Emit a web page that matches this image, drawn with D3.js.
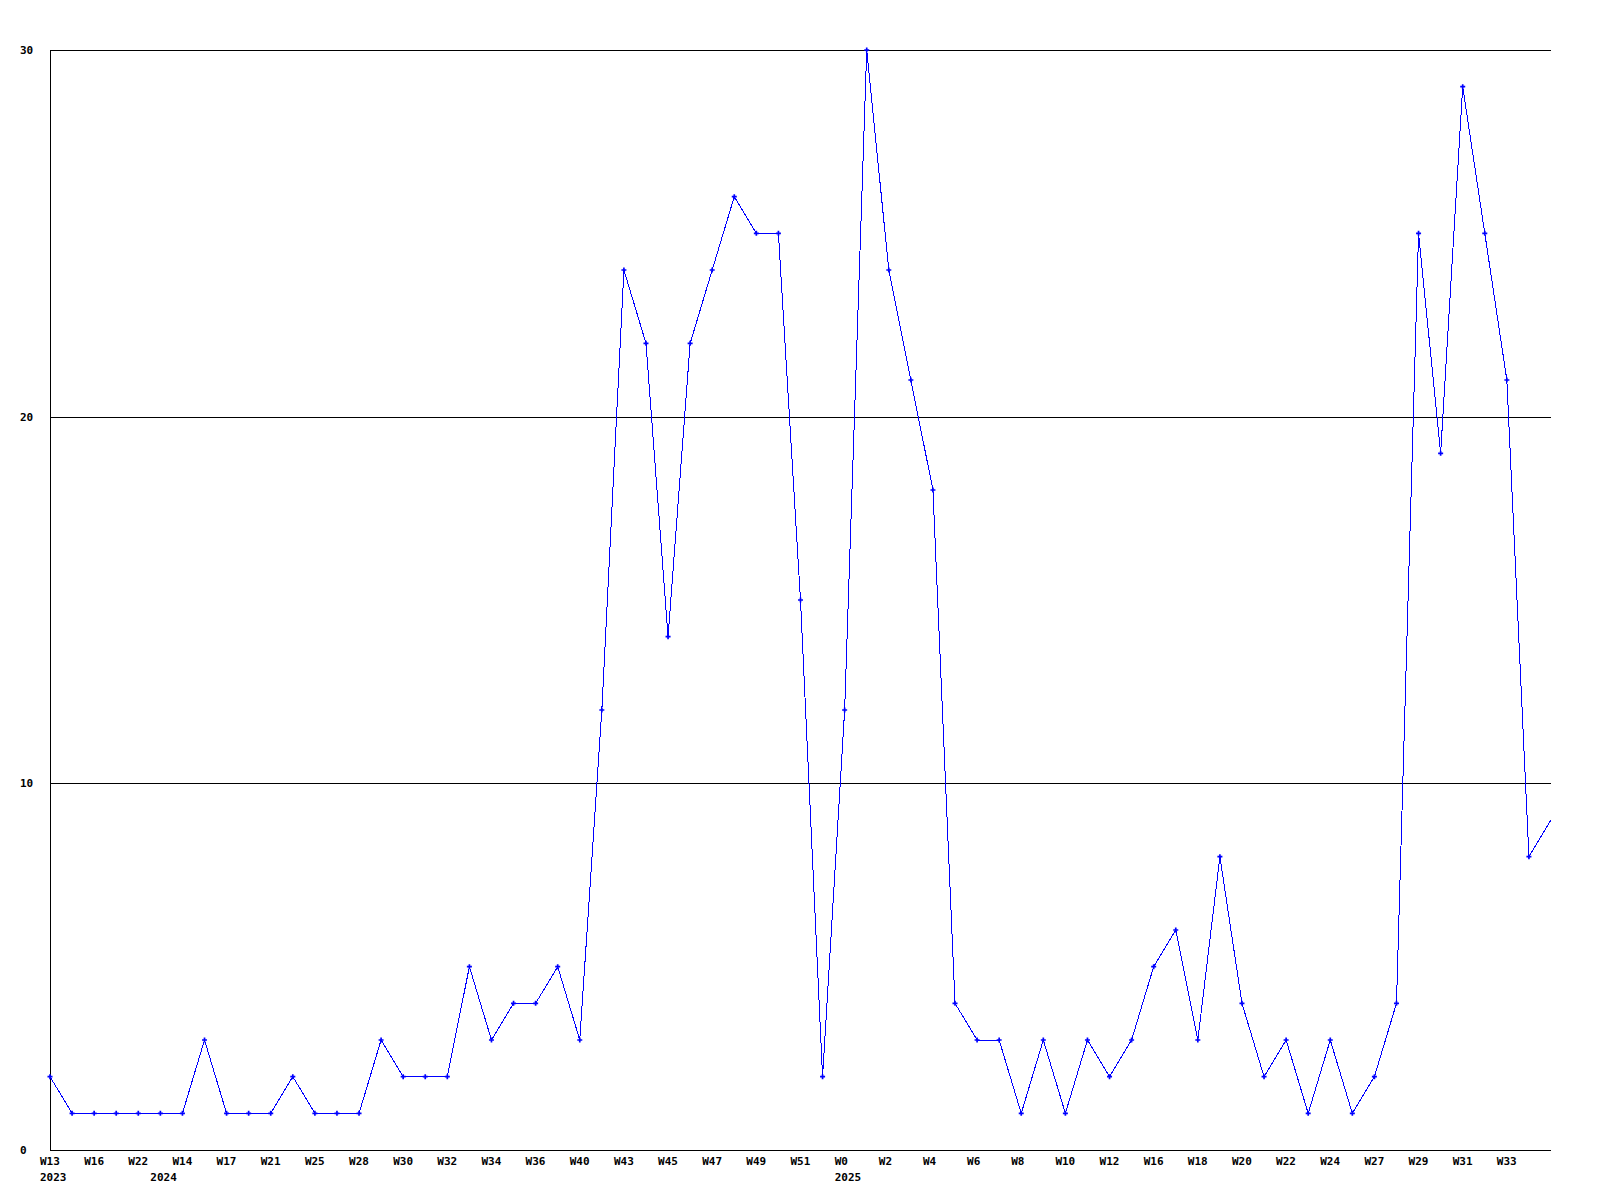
<!DOCTYPE html>
<html>
<head>
<meta charset="utf-8">
<script src="https://cdn.jsdelivr.net/npm/d3@7"></script>
<style>
  html, body { margin: 0; padding: 0; background: #fff; }
  svg { display: block; }
  text { font-family: "DejaVu Sans Mono", "Liberation Mono", monospace; font-weight: bold; font-size: 11px; fill: #000; }
</style>
</head>
<body>
<svg id="chart" width="1600" height="1200"></svg>
<script>
// Weekly counts (one point per week)
const values = [2,1,1,1,1,1,1,3,1,1,1,2,1,1,1,3,2,2,2,5,3,4,4,5,3,12,24,22,14,22,24,26,25,25,15,2,12,30,24,21,18,4,3,3,1,3,1,3,2,3,5,6,3,8,4,2,3,1,3,1,2,4,25,19,29,25,21,8,9];
// Week tick labels (every second point, starting at index 0)
const weekLabels = ["W13","W16","W22","W14","W17","W21","W25","W28","W30","W32","W34","W36","W40","W43","W45","W47","W49","W51","W0","W2","W4","W6","W8","W10","W12","W16","W18","W20","W22","W24","W27","W29","W31","W33"];
const weekLabelIndex = weekLabels.map((_, i) => i * 2);
// Year labels and the point index where they appear
const yearLabels = ["2023","2024","2025"];
const yearLabelIndex = [0, 5, 36];
const yTicks = [0, 10, 20, 30];

(function () {
const mLeft = 50, mRight = 1551, mTop = 50, mBottom = 1150;
const svg = d3.select("#chart");

const x = d3.scaleLinear().domain([0, values.length - 1]).range([mLeft, mRight]);
const y = d3.scaleLinear().domain([0, 30]).range([mBottom, mTop]);

// horizontal grid lines
svg.append("g").selectAll("line").data(yTicks.filter(d => d > 0)).join("line")
  .attr("x1", mLeft).attr("x2", mRight)
  .attr("y1", d => Math.round(y(d)) + 0.5).attr("y2", d => Math.round(y(d)) + 0.5)
  .attr("stroke", "#000").attr("stroke-width", 1).attr("shape-rendering", "crispEdges");

// axes lines
svg.append("line").attr("x1", mLeft + 0.5).attr("x2", mLeft + 0.5).attr("y1", mTop).attr("y2", mBottom + 1)
  .attr("stroke", "#000").attr("shape-rendering", "crispEdges");
svg.append("line").attr("x1", mLeft).attr("x2", mRight).attr("y1", mBottom + 0.5).attr("y2", mBottom + 0.5)
  .attr("stroke", "#000").attr("shape-rendering", "crispEdges");

// y tick labels
svg.append("g").selectAll("text").data(yTicks).join("text")
  .attr("x", 20).attr("y", d => y(d) + 4)
  .text(d => d);

// x week labels
svg.append("g").selectAll("text").data(weekLabels).join("text")
  .attr("x", (d, i) => x(weekLabelIndex[i]) - 10).attr("y", 1165)
  .text(d => d);

// year labels
svg.append("g").selectAll("text").data(yearLabels).join("text")
  .attr("x", (d, i) => x(yearLabelIndex[i]) - 10).attr("y", 1181)
  .text(d => d);

// data line
const line = d3.line().x((d, i) => x(i)).y(d => y(d));
svg.append("path").datum(values)
  .attr("d", line).attr("fill", "none").attr("stroke", "#0000ff").attr("stroke-width", 1)
  .attr("shape-rendering", "crispEdges");

// markers (last point sits on the right edge without a marker)
const sym = d3.symbol().type(d3.symbolCross).size(14);
svg.append("g").selectAll("path").data(values.slice(0, values.length - 1)).join("path")
  .attr("transform", (d, i) => `translate(${x(i)},${y(d)})`)
  .attr("d", sym).attr("fill", "#0000ff");
})();
</script>
</body>
</html>
